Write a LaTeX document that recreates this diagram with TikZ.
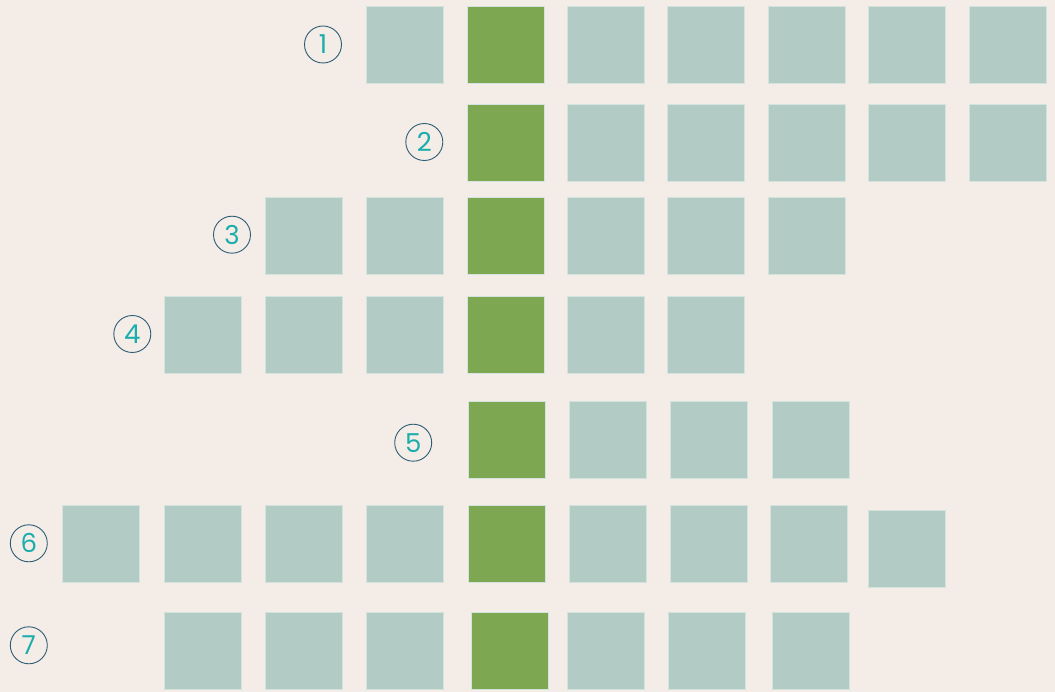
\documentclass[tikz,border=0pt]{standalone}
\usepackage{fontspec}
\setmainfont{Poppins}
\usetikzlibrary{positioning}
\definecolor{paper}{HTML}{F3ECE7}
\definecolor{tile}{HTML}{B2CCC5}
\definecolor{pick}{HTML}{7DA751}
\definecolor{ring}{HTML}{2F5D75}
\definecolor{digit}{HTML}{1AADAB}

\begin{document}
\begin{tikzpicture}[
  x=1pt,y=-1pt,
  sq/.style={draw=tile!55!white,line width=0.7pt,minimum size=77pt,inner sep=0pt,outer sep=0pt},
  cell/.style={sq,fill=tile},
  mid/.style={sq,fill=pick},
  num/.style={circle,draw=ring,line width=0.9pt,minimum size=37pt,inner sep=0pt,text=digit,font=\fontsize{26}{26}\selectfont}
]
\fill[paper] (0,0) rectangle (1055,692);
\useasboundingbox (0,0) rectangle (1055,692);
% row 1
\node[num] (n1) at (323,44.5) {1};
\node[cell] (r1a) at (405,45) {};
\node[mid] (r1g) at (505.5,45) {};
\foreach \x [count=\i] in {606,706,807,907,1008}
  \node[cell] (r1b\i) at (\x,45) {};
% row 2
\node[num] (n2) at (424.3,142) {2};
\node[mid] (r2g) at (505.5,142.5) {};
\foreach \x [count=\i] in {606,706,807,907,1008}
  \node[cell] (r2b\i) at (\x,142.5) {};
% row 3
\node[num] (n3) at (232,234.7) {3};
\foreach \x [count=\i] in {304,405}
  \node[cell] (r3a\i) at (\x,235.5) {};
\node[mid] (r3g) at (505.5,235.5) {};
\foreach \x [count=\i] in {606,706,807}
  \node[cell] (r3b\i) at (\x,235.5) {};
% row 4
\node[num] (n4) at (132.3,334) {4};
\foreach \x [count=\i] in {203,304,405}
  \node[cell] (r4a\i) at (\x,334.5) {};
\node[mid] (r4g) at (505.5,334.5) {};
\foreach \x [count=\i] in {606,706}
  \node[cell] (r4b\i) at (\x,334.5) {};
% row 5
\node[num] (n5) at (413.2,442.7) {5};
\node[mid] (r5g) at (507,439.7) {};
\foreach \x [count=\i] in {608,709,810.7}
  \node[cell] (r5b\i) at (\x,439.7) {};
% row 6
\node[num] (n6) at (28.8,543.3) {6};
\foreach \x [count=\i] in {101,203,304,405}
  \node[cell] (r6a\i) at (\x,544) {};
\node[mid] (r6g) at (507,544) {};
\foreach \x [count=\i] in {608,709,808.5}
  \node[cell] (r6b\i) at (\x,544) {};
\node[cell] (r6c) at (907.3,548.8) {};
% row 7
\node[num] (n7) at (28.8,645.3) {7};
\foreach \x [count=\i] in {203,304,405}
  \node[cell] (r7a\i) at (\x,651.3) {};
\node[mid] (r7g) at (509.4,651.3) {};
\foreach \x [count=\i] in {606,707,811}
  \node[cell] (r7b\i) at (\x,651.3) {};
\end{tikzpicture}
\end{document}
